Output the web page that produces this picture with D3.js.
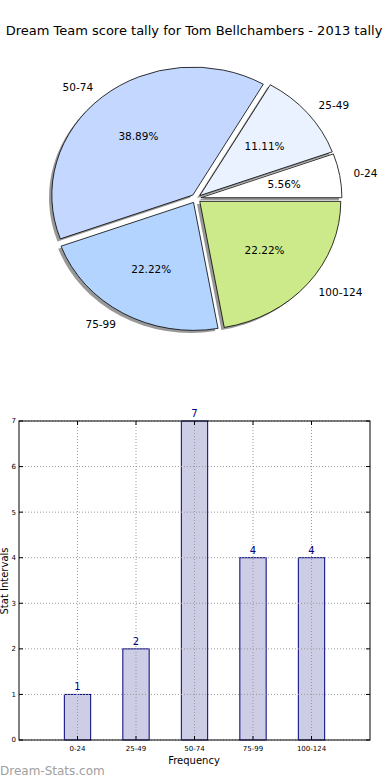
<!DOCTYPE html>
<html>
<head>
<meta charset="utf-8">
<script src="https://cdn.jsdelivr.net/npm/d3@7"></script>
<style>
  body { margin: 0; background: #fff; }
  svg { font-family: "DejaVu Sans", sans-serif; }
</style>
</head>
<body>
<div id="chart"></div>
<script>
// Chart data
const categories = ["0-24", "25-49", "50-74", "75-99", "100-124"];
const counts = [1, 2, 7, 4, 4];
const sliceColors = ["#ffffff", "#eaf2ff", "#c4d8ff", "#b3d4ff", "#cdea8a"];
const yTicks = [0, 1, 2, 3, 4, 5, 6, 7];

const width = 390, height = 780;

const svg = d3.select("#chart")
    .append("svg")
    .attr("width", width)
    .attr("height", height);

// Title
svg.append("text")
    .attr("x", 194)
    .attr("y", 35)
    .attr("text-anchor", "middle")
    .style("font-size", "13px")
    .text("Dream Team score tally for Tom Bellchambers - 2013 tally");

// ---- Pie (elliptical, exploded, with shadow) ----
const cx = 196, cy = 198.5, rx = 141, ry = 128;
const r = 100, explode = 0.035;
const total = d3.sum(counts);

// matplotlib style: start at 3 o'clock, counterclockwise
const pie = d3.pie().sort(null)
    .startAngle(Math.PI / 2)
    .endAngle(Math.PI / 2 - 2 * Math.PI);
const arcs = pie(counts);
const arc = d3.arc().innerRadius(0).outerRadius(r);

const pieG = svg.append("g")
    .attr("transform", `translate(${cx}, ${cy}) scale(${rx / r}, ${ry / r})`);

// math angle of each slice middle
const mid = d => Math.PI / 2 - (d.startAngle + d.endAngle) / 2;

// shadows first
pieG.selectAll("path.shadow")
    .data(arcs)
    .enter()
    .append("path")
    .classed("shadow", true)
    .attr("d", arc)
    .attr("transform", d => `translate(${explode * r * Math.cos(mid(d)) - 0.02 * r}, ${-explode * r * Math.sin(mid(d)) + 0.02 * r})`)
    .style("fill", "#444")
    .style("opacity", 0.55);

pieG.selectAll("path.slice")
    .data(arcs)
    .enter()
    .append("path")
    .classed("slice", true)
    .attr("d", arc)
    .attr("transform", d => `translate(${explode * r * Math.cos(mid(d))}, ${-explode * r * Math.sin(mid(d))})`)
    .style("fill", (d, i) => sliceColors[i])
    .style("stroke", "#000")
    .style("stroke-width", 0.8)
    .attr("vector-effect", "non-scaling-stroke");

// category labels outside
svg.selectAll("text.cat")
    .data(arcs)
    .enter()
    .append("text")
    .classed("cat", true)
    .attr("x", d => cx + rx * (explode + 1.1) * Math.cos(mid(d)))
    .attr("y", d => cy - ry * (explode + 1.1) * Math.sin(mid(d)))
    .attr("dy", "0.35em")
    .attr("text-anchor", d => Math.cos(mid(d)) > 0 ? "start" : "end")
    .style("font-size", "10.5px")
    .text((d, i) => categories[i]);

// percentage labels inside
svg.selectAll("text.pct")
    .data(arcs)
    .enter()
    .append("text")
    .classed("pct", true)
    .attr("x", d => cx + rx * (explode + 0.6) * Math.cos(mid(d)))
    .attr("y", d => cy - ry * (explode + 0.6) * Math.sin(mid(d)))
    .attr("dy", "0.35em")
    .attr("text-anchor", "middle")
    .style("font-size", "10.5px")
    .text(d => (d.value / total * 100).toFixed(2) + "%");

// ---- Bar chart ----
const x = d3.scaleLinear().domain([-1, 5]).range([19, 370]);
const y = d3.scaleLinear().domain([0, 7]).range([740, 421]);
const barW = x(0.45) - x(0);

const barG = svg.append("g");

barG.selectAll("rect.bar")
    .data(counts)
    .enter()
    .append("rect")
    .classed("bar", true)
    .attr("x", (d, i) => x(i) - barW / 2)
    .attr("y", d => y(d))
    .attr("width", barW)
    .attr("height", d => y(0) - y(d))
    .style("fill", "#cdcde6")
    .style("stroke", "#000080")
    .style("stroke-width", 1);

// dotted grid on top of bars
barG.selectAll("line.hgrid")
    .data(yTicks)
    .enter()
    .append("line")
    .attr("x1", x(-1)).attr("x2", x(5))
    .attr("y1", d => y(d)).attr("y2", d => y(d))
    .style("stroke", "#999")
    .style("stroke-dasharray", "1,2");

barG.selectAll("line.vgrid")
    .data(categories)
    .enter()
    .append("line")
    .attr("x1", (d, i) => x(i)).attr("x2", (d, i) => x(i))
    .attr("y1", y(0)).attr("y2", y(7))
    .style("stroke", "#999")
    .style("stroke-dasharray", "1,2");

// ticks inside, on all four sides
barG.selectAll("line.ytick")
    .data(yTicks)
    .enter()
    .append("g")
    .each(function (d) {
        const g = d3.select(this);
        g.append("line").attr("x1", x(-1)).attr("x2", x(-1) + 4).attr("y1", y(d)).attr("y2", y(d)).style("stroke", "#000");
        g.append("line").attr("x1", x(5) - 4).attr("x2", x(5)).attr("y1", y(d)).attr("y2", y(d)).style("stroke", "#000");
    });

barG.selectAll("g.xtick")
    .data(categories)
    .enter()
    .append("g")
    .each(function (d, i) {
        const g = d3.select(this);
        g.append("line").attr("x1", x(i)).attr("x2", x(i)).attr("y1", y(0)).attr("y2", y(0) - 4).style("stroke", "#000");
        g.append("line").attr("x1", x(i)).attr("x2", x(i)).attr("y1", y(7)).attr("y2", y(7) + 4).style("stroke", "#000");
    });

// frame
barG.append("rect")
    .attr("x", x(-1))
    .attr("y", y(7))
    .attr("width", x(5) - x(-1))
    .attr("height", y(0) - y(7))
    .style("fill", "none")
    .style("stroke", "#000")
    .style("stroke-width", 1);

// tick labels
barG.selectAll("text.ylab")
    .data(yTicks)
    .enter()
    .append("text")
    .attr("x", x(-1) - 3)
    .attr("y", d => y(d))
    .attr("dy", "0.35em")
    .attr("text-anchor", "end")
    .style("font-size", "7px")
    .text(d => d);

barG.selectAll("text.xlab")
    .data(categories)
    .enter()
    .append("text")
    .attr("x", (d, i) => x(i))
    .attr("y", y(0) + 11)
    .attr("text-anchor", "middle")
    .style("font-size", "7px")
    .text(d => d);

// value labels above bars
barG.selectAll("text.val")
    .data(counts)
    .enter()
    .append("text")
    .attr("x", (d, i) => x(i))
    .attr("y", d => y(d) - 4)
    .attr("text-anchor", "middle")
    .style("font-size", "10px")
    .style("fill", "#000080")
    .text(d => d);

// axis titles
svg.append("text")
    .attr("x", 194)
    .attr("y", 764)
    .attr("text-anchor", "middle")
    .style("font-size", "10px")
    .text("Frequency");

svg.append("text")
    .attr("transform", "translate(8, 581) rotate(-90)")
    .attr("text-anchor", "middle")
    .style("font-size", "10px")
    .text("Stat Intervals");

// watermark
svg.append("text")
    .attr("x", 0)
    .attr("y", 775)
    .style("font-size", "12px")
    .style("fill", "#a0a0a0")
    .text("Dream-Stats.com");
</script>
</body>
</html>
